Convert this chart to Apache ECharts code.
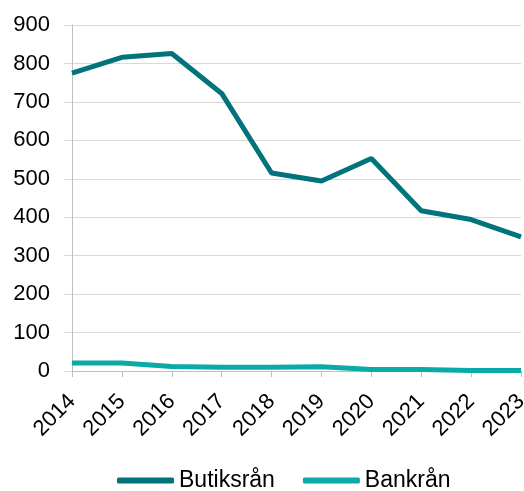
<!DOCTYPE html>
<html>
<head>
<meta charset="utf-8">
<script src="https://cdn.jsdelivr.net/npm/echarts@6/dist/echarts.min.js"></script>
<style>
  html, body { margin: 0; padding: 0; background: #fff; }
  #chart { width: 524px; height: 491px; }
</style>
</head>
<body>
<div id="chart"></div>
<script>
const years = ["2014", "2015", "2016", "2017", "2018", "2019", "2020", "2021", "2022", "2023"];
const butiksran = [775, 816, 826, 722, 515, 494, 553, 417, 394, 349];
const bankran = [21, 21, 12, 10, 10, 11, 4, 4, 1, 1];
const yTicks = { min: 0, max: 900, interval: 100 };

const font = "'Liberation Sans', Arial, sans-serif";

echarts.init(document.getElementById("chart")).setOption({
  animation: false,
  grid: { left: 72, right: 3, top: 25, bottom: 120, outerBoundsMode: "none", containLabel: false },
  legend: {
    left: 112, top: 464,
    itemWidth: 57, itemHeight: 6, itemGap: 28,
    icon: "roundRect",
    textStyle: { fontFamily: font, fontSize: 23, color: "#000" },
    data: ["Butiksrån", "Bankrån"]
  },
  xAxis: {
    type: "category", data: years, boundaryGap: false,
    axisLine: { lineStyle: { color: "#bfbfbf", width: 1 } },
    axisTick: { show: true, length: 6, alignWithLabel: true, lineStyle: { color: "#bfbfbf" } },
    axisLabel: { rotate: 45, margin: 27, fontFamily: font, fontSize: 22, color: "#000", interval: 0 }
  },
  yAxis: {
    type: "value", min: yTicks.min, max: yTicks.max, interval: yTicks.interval,
    axisLine: { show: true, lineStyle: { color: "#bfbfbf", width: 1 } },
    axisTick: { show: true, length: 8, lineStyle: { color: "#d9d9d9" } },
    splitLine: { lineStyle: { color: "#d9d9d9", width: 1 } },
    axisLabel: { margin: 22, fontFamily: font, fontSize: 22, color: "#000" }
  },
  series: [
    { name: "Butiksrån", type: "line", data: butiksran, symbol: "none",
      lineStyle: { color: "#00747a", width: 5 }, itemStyle: { color: "#00747a" } },
    { name: "Bankrån", type: "line", data: bankran, symbol: "none",
      lineStyle: { color: "#0aaba7", width: 5 }, itemStyle: { color: "#0aaba7" } }
  ]
});
</script>
</body>
</html>
